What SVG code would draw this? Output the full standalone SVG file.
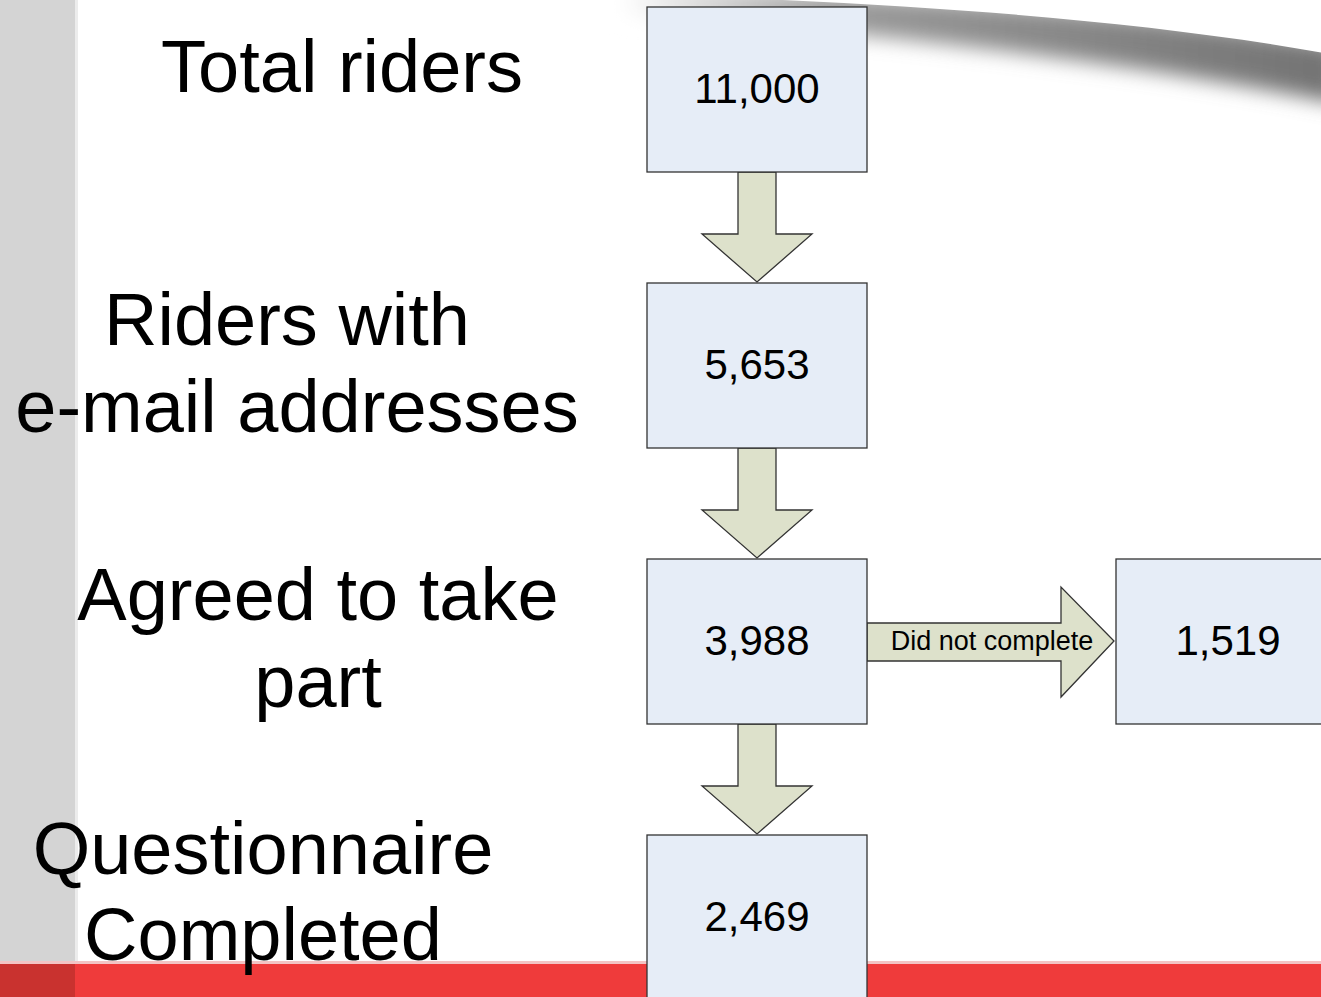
<svg xmlns="http://www.w3.org/2000/svg" width="1321" height="997" viewBox="0 0 1321 997">
<style>
.lbl{font-family:"Liberation Sans",Arial,sans-serif;font-size:74px;fill:#000;text-anchor:middle}
.num{font-family:"Liberation Sans",Arial,sans-serif;font-size:42px;fill:#000;text-anchor:middle}
.small{font-family:"Liberation Sans",Arial,sans-serif;font-size:27px;fill:#000;text-anchor:middle}
.box{fill:#e6edf7;stroke:#333;stroke-width:1.3}
.arr{fill:#dde1cb;stroke:#333;stroke-width:1.3;stroke-linejoin:miter}
</style>
<defs>
<filter id="blur" x="-20%" y="-50%" width="140%" height="200%"><feGaussianBlur stdDeviation="10"/></filter>
<linearGradient id="swg" x1="620" y1="0" x2="1321" y2="0" gradientUnits="userSpaceOnUse">
<stop offset="0" stop-color="#ffffff"/>
<stop offset="0.3" stop-color="#9a9a9a"/>
<stop offset="1" stop-color="#747474"/>
</linearGradient>
</defs>
<rect x="0" y="0" width="1321" height="997" fill="#ffffff"/>
<g id="background">
<path d="M 620 -14 C 900 -6 1150 12 1340 46 L 1340 104 C 1150 66 900 34 620 14 Z" fill="url(#swg)" filter="url(#blur)"/>
<path d="M 560 -40 L 560 -6 L 620 -6 C 900 2 1150 20 1340 56 L 1340 -40 Z" fill="#ffffff"/>
<rect x="0" y="0" width="75" height="964" fill="#d4d4d4"/>
<rect x="75" y="0" width="3" height="964" fill="#ececec"/>
<rect x="0" y="961" width="1321" height="3" fill="#f3c4c4"/>
<rect x="0" y="964" width="1321" height="33" fill="#ef3b3b"/>
<rect x="0" y="964" width="75" height="33" fill="#c9322f"/>
</g>
<g id="labels">
<text class="lbl" x="342" y="92">Total riders</text>
<text class="lbl" x="287" y="345">Riders with</text>
<text class="lbl" x="297" y="432">e-mail addresses</text>
<text class="lbl" x="318" y="620">Agreed to take</text>
<text class="lbl" x="318" y="707">part</text>
<text class="lbl" x="263" y="874">Questionnaire</text>
<text class="lbl" x="263" y="960">Completed</text>
</g>
<g id="connectors">
<polygon class="arr" points="738,172 776,172 776,234 812,234 757,282 702,234 738,234"/>
<polygon class="arr" points="738,448 776,448 776,510 812,510 757,558 702,510 738,510"/>
<polygon class="arr" points="738,724 776,724 776,786 812,786 757,834 702,786 738,786"/>
<polygon class="arr" points="867,623 1061,623 1061,587 1114,641 1061,697 1061,661 867,661"/>
<text class="small" x="992" y="650">Did not complete</text>
</g>
<g id="node-total">
<rect class="box" x="647" y="7" width="220" height="165"/>
<text class="num" x="757" y="103">11,000</text>
</g>
<g id="node-email">
<rect class="box" x="647" y="283" width="220" height="165"/>
<text class="num" x="757" y="379">5,653</text>
</g>
<g id="node-agreed">
<rect class="box" x="647" y="559" width="220" height="165"/>
<text class="num" x="757" y="655">3,988</text>
</g>
<g id="node-completed">
<rect class="box" x="647" y="835" width="220" height="175"/>
<text class="num" x="757" y="931">2,469</text>
</g>
<g id="node-notcompleted">
<rect class="box" x="1116" y="559" width="220" height="165"/>
<text class="num" x="1228" y="655">1,519</text>
</g>
</svg>
